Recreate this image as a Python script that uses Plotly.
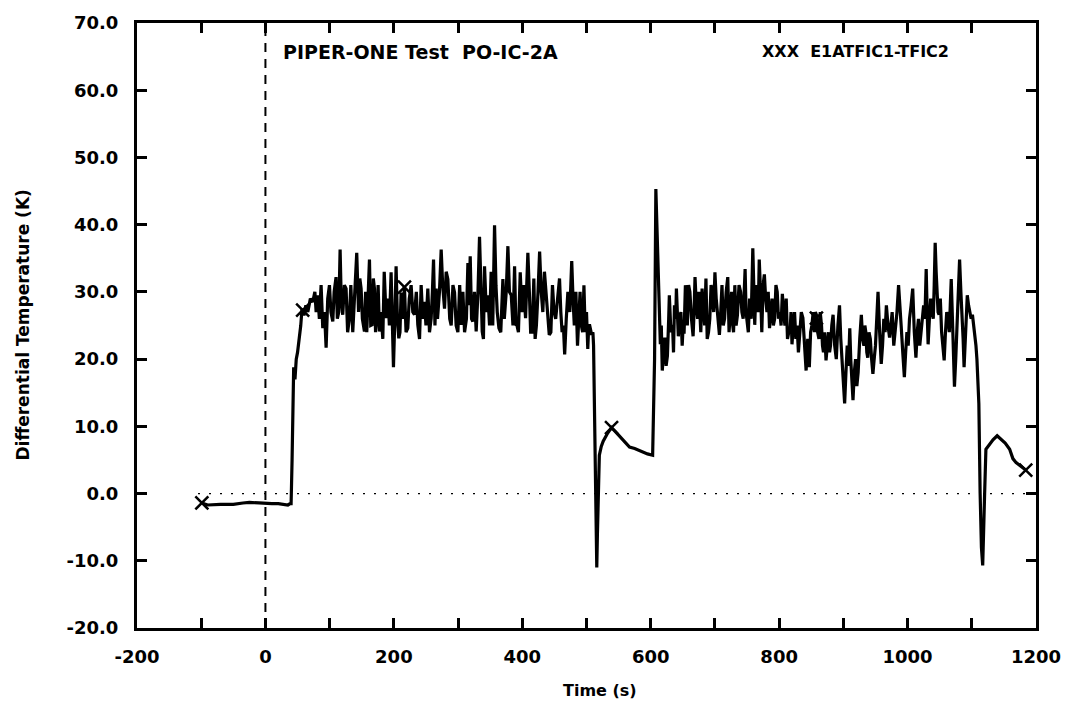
import plotly.graph_objects as go

# ---- data, as [time s, dT K] pairs per segment ----
seg_baseline = [
    [-99, -1.4], [-90, -1.7], [-70, -1.6], [-50, -1.6], [-35, -1.4], [-25, -1.3],
    [-10, -1.4], [0, -1.5], [10, -1.5], [20, -1.5], [27, -1.6], [35, -1.7],
    [38.5, -1.5], [40, -1.5],
]
seg_rise = [
    [41.5, 5], [43, 14], [44, 18.8], [46, 17], [48, 20], [50, 21], [53, 23],
    [55, 25], [57, 27.5], [60, 26.5], [63, 28], [66, 27], [70, 29], [73.7, 28.5],
]
seg_noise_1 = [
    [77, 30], [79, 27], [81.5, 29.5], [84, 26], [86.7, 31], [88, 28], [89.3, 24.6],
    [92, 27], [94.5, 21.7], [97, 29], [99.7, 31], [102, 27], [104.9, 25.6], [107, 30],
    [110, 32.2], [112, 26], [114.2, 27], [116.3, 36.3], [118, 29], [120.4, 26.6],
    [123, 31], [125.6, 30.5], [128, 24], [130.8, 26.1], [133, 31], [136, 24], [139, 30],
    [142.2, 35.8], [145, 27], [147, 32], [149, 30.5], [151, 26], [154.2, 24.1],
    [156, 30], [157.8, 24], [160, 31], [162, 34.8], [164, 25], [166.1, 25.1], [168, 32],
    [169.8, 30.5], [171.5, 24], [173.4, 26.1], [175.5, 31], [177.6, 24.1], [180, 27],
    [182.8, 23], [185, 33], [188, 26.1], [191, 29], [193, 25], [195.7, 32.9],
    [197.5, 27], [199.4, 18.8], [201.5, 26], [203.5, 33.8], [205.5, 26], [207.7, 23.1],
    [209.5, 24], [211.3, 29.9], [214, 26], [216.5, 30.7], [219, 24], [221.7, 24.6],
    [224, 29], [226.9, 31], [229.5, 27], [232.1, 26.6], [235, 30], [237.3, 25.1],
    [240, 23], [242.5, 31], [245, 26], [247.7, 28.5], [250, 25], [252.9, 30.5],
    [255.5, 24], [258.1, 26.1], [260, 30], [261.8, 34.8], [264, 25], [265.9, 30.5],
    [268, 26], [271, 30], [273.7, 36.3], [276, 31], [278.9, 27.5], [281.5, 33],
    [284.1, 31.9], [287, 26], [289.3, 25], [292, 31], [294.5, 29.9], [297, 25],
    [299.7, 24], [302.5, 31], [304.9, 25.1], [307.5, 30], [310.1, 24], [313, 26],
    [315.3, 34.3], [317, 28], [318.9, 35.3], [321, 26], [323, 25.6], [325.5, 30],
    [328.2, 24.1], [331, 30], [333.4, 38.2], [335.5, 30], [337.6, 24.1], [339.5, 23],
    [341.2, 33.8], [344, 27], [346.4, 29.5], [349, 25], [351.5, 33], [354, 25],
    [356.8, 39.9], [359, 31], [361, 27], [363.6, 24.6], [366.5, 24], [369.8, 31.9],
    [372, 26], [375, 30], [377.6, 36.8], [380, 30], [382.8, 29.5], [385.5, 25],
    [388, 33.8], [390, 25], [391.6, 25.1], [394, 24], [396.8, 32.9], [399.5, 27],
    [402, 31], [405.1, 26.1], [408.7, 35.8], [411, 30], [413, 24], [415.5, 24],
    [418, 32], [420, 23], [422, 25], [424.5, 30], [427, 36], [429.5, 30], [432, 27],
    [434.5, 33], [437, 30], [439.5, 26], [442, 23.6], [444.5, 24], [447, 31],
    [449.5, 27], [452, 26], [455, 29], [458, 32], [460, 27], [462, 24], [464, 25],
    [466, 20.7], [468.5, 26], [471, 30], [474, 27], [477, 34.6], [479, 29], [481, 25],
    [483.5, 30], [486, 22], [488, 26], [490, 30], [492, 25], [494, 24], [496, 31],
    [498, 24], [500, 27], [502, 21.5], [503.5, 25], [505, 25], [508, 23.6], [510, 24],
    [511, 22],
]
seg_dip_plateau = [
    [513, 5], [515, -8], [516, -11], [517, -6], [518, 0], [520, 5.7], [523, 7],
    [526, 7.8], [533, 9], [539, 9.8], [545, 9.2], [551, 8.6], [557, 8], [562, 7.4],
    [567, 6.9], [575, 6.7], [582, 6.4], [590, 6.1], [595, 5.9], [603, 5.7], [606, 20],
    [608, 45.3], [610, 38],
]
seg_noise_2 = [
    [611, 33.4], [613, 27], [615, 22.2], [616.5, 25], [618, 18.3], [620, 21],
    [622, 23.2], [624, 19], [626, 20.5], [628, 26], [629, 29.5], [631, 25], [632, 24],
    [634, 25.1], [635.5, 21], [637, 28], [639, 26], [640, 30.5], [641.5, 26],
    [643, 23.4], [645, 26], [647, 27], [649, 22], [650, 24], [652, 24], [654, 31],
    [656, 27], [657, 25], [659, 31], [661, 30], [663.5, 26], [666, 23.4], [667.5, 27],
    [669, 32.2], [671, 28], [673, 26], [675, 30], [676, 26.6], [678, 24], [680, 30.5],
    [682, 27], [684, 25], [686, 32], [688, 23], [690, 24], [692, 26], [694, 31],
    [696, 30], [698, 27], [700, 32.9], [702, 29], [704, 27], [705.5, 26], [707, 23.6],
    [709, 27], [711, 31], [713, 25], [715, 26], [717.5, 30], [720, 32.2], [722, 24],
    [724, 27], [726, 30], [727, 25.6], [729, 24], [731, 31], [733, 25], [735, 26.5],
    [737.5, 31], [740, 30], [742, 27], [744, 26], [745.5, 30], [747, 33.4],
    [748.5, 27], [750, 25.1], [752, 24], [754, 29], [756.5, 26], [759, 36.5],
    [760.5, 29], [762, 25.1], [764, 31], [766, 30], [767.5, 27], [769, 34.8],
    [771, 30], [773, 24], [775, 31], [777, 32.6], [779, 29], [781, 27], [783, 30],
    [785, 24.6], [787, 27], [789, 29], [791, 25], [793, 26], [795, 31], [797, 30],
    [799, 26], [801, 27], [803, 25], [805, 29.7], [807, 27], [809, 25], [811, 29],
    [813, 23], [815, 24], [817, 24], [818.5, 27], [820, 22.2], [822, 25], [824, 27],
    [826, 23], [828, 25], [830, 21], [832, 24], [834.5, 27], [837, 26.1], [839.5, 22],
    [842, 18.3], [844.5, 23], [847, 18.8], [849, 24], [851, 25], [853, 27], [855, 24],
    [856.5, 27], [858, 26.6], [860, 24], [862, 23], [864, 27], [866, 25], [867.5, 22],
    [869, 21], [871, 24], [873, 19.8], [875, 22], [877, 24], [878.5, 21], [880, 22],
    [882, 25], [884, 26.6], [886.5, 22], [889, 20], [891.5, 25], [894, 28], [896, 23],
    [898, 19], [900, 17], [902, 13.4], [904, 18], [906, 22], [908, 19], [910, 24.6],
    [911.5, 20], [913, 17], [914, 15], [915, 13.9], [917, 18], [919, 20], [921, 16],
    [923, 18], [925.5, 23], [928, 26.6], [930, 23], [932, 22], [933.5, 25], [935, 24],
    [936.5, 21], [938, 20.2], [940, 24], [942, 23], [944, 20], [946, 17.8], [948, 20],
    [950, 22], [952, 26], [954, 30], [956.5, 24], [959, 19.3], [961, 22], [963, 26],
    [965, 24], [967, 28], [969.5, 25], [972, 23.2], [974, 25], [976, 27], [978.5, 22],
    [981, 24], [983.5, 27], [986, 31], [988, 27], [990, 25], [992.5, 21], [995, 17.3],
    [997, 21], [999, 24], [1001, 22], [1003, 26], [1005.5, 28], [1008, 30.5],
    [1010.5, 24], [1013, 20.2], [1015, 24], [1017, 26], [1019, 22], [1021, 24],
    [1023, 27], [1025, 28], [1027, 26], [1029, 33.4], [1030.5, 27], [1032, 22.2],
    [1034, 26], [1036, 29], [1038, 27], [1040, 26], [1041.5, 31], [1043, 37.3],
    [1044.5, 33], [1046, 30], [1047.5, 27], [1049, 26.6], [1051, 29], [1053, 24],
    [1055, 22], [1057, 19.8], [1059, 24], [1061, 27], [1063, 26], [1065, 24],
    [1066.5, 28], [1068, 31.9], [1070.5, 24], [1073, 15.9], [1075, 20], [1077, 25],
    [1079, 30], [1081, 34.8], [1083, 30], [1085, 27], [1086.5, 23], [1088, 18.8],
    [1089.5, 22], [1091, 25], [1093, 29.5], [1095, 28], [1097, 27], [1099, 26],
    [1101, 26.6], [1103, 25], [1105, 24], [1106.5, 22], [1108, 20], [1110, 16],
    [1111, 13.4],
]
seg_final = [
    [1113, 0], [1115, -8], [1117, -10.7], [1118, -5], [1120, 0], [1122, 6.6],
    [1127, 7.3], [1133, 8], [1139.5, 8.6], [1146, 8], [1152, 7.5], [1159, 6.6],
    [1164, 5.2], [1169, 4.6], [1174, 4.2], [1184, 3.5],
]

marker_time = [-99, 58, 216.5, 539, 858, 1184]
marker_dT = [-1.4, 27.3, 30.7, 9.8, 26.1, 3.5]

x_tick_vals = list(range(-200, 1201, 100))
x_tick_text = [str(v) if v % 200 == 0 else "" for v in x_tick_vals]
y_tick_vals = list(range(-20, 71, 10))
y_tick_text = [f"{v:.1f}" for v in y_tick_vals]

title_text = "PIPER-ONE Test  PO-IC-2A"
legend_text = "XXX  E1ATFIC1-TFIC2"
x_title = "Time (s)"
y_title = "Differential Temperature (K)"

all_pairs = seg_baseline + seg_rise + seg_noise_1 + seg_dip_plateau + seg_noise_2 + seg_final
time_s = [p[0] for p in all_pairs]
dT_K = [p[1] for p in all_pairs]

FONT = "DejaVu Sans"

fig = go.Figure()

# zero reference line (dotted)
fig.add_trace(go.Scatter(x=[-105, 1200], y=[0, 0], mode="lines",
                         line=dict(color="black", width=1.2, dash="2px,9px"),
                         hoverinfo="skip", showlegend=False))
# t = 0 reference line (dashed)
fig.add_trace(go.Scatter(x=[0, 0], y=[-20, 70], mode="lines",
                         line=dict(color="black", width=2, dash="9px,7px"),
                         hoverinfo="skip", showlegend=False))

fig.add_trace(go.Scatter(x=time_s, y=dT_K, mode="lines",
                         line=dict(color="black", width=3.2),
                         showlegend=False))
fig.add_trace(go.Scatter(x=marker_time, y=marker_dT, mode="markers",
                         marker=dict(symbol="x-thin-open", size=13, color="black",
                                     line=dict(color="black", width=2.5)),
                         showlegend=False))

axis_common = dict(showgrid=False, zeroline=False, showline=True,
                   linecolor="black", linewidth=3, mirror="allticks",
                   ticks="inside", ticklen=10, tickwidth=2.5, tickcolor="black",
                   tickfont=dict(family=FONT, size=18, color="black", weight="bold"))

fig.update_xaxes(range=[-200, 1200], tickmode="array", tickvals=x_tick_vals,
                 ticktext=x_tick_text, ticklabelstandoff=10, **axis_common)
fig.update_yaxes(range=[-20, 70], tickmode="array", tickvals=y_tick_vals,
                 ticktext=y_tick_text, ticklabelstandoff=12, **axis_common)

fig.add_annotation(text=title_text, xref="x", yref="paper", x=25, y=1,
                   xanchor="left", yanchor="middle", yshift=-29, showarrow=False,
                   font=dict(family=FONT, size=19, color="black", weight="bold"))
fig.add_annotation(text=legend_text, xref="x", yref="paper", x=770, y=1,
                   xanchor="left", yanchor="middle", yshift=-28, showarrow=False,
                   font=dict(family=FONT, size=16, color="black", weight="bold"))
fig.add_annotation(text=x_title, xref="paper", yref="paper", x=0.515, y=0,
                   xanchor="center", yanchor="middle", yshift=-62, showarrow=False,
                   font=dict(family=FONT, size=16, color="black", weight="bold"))
fig.add_annotation(text=y_title, xref="paper", yref="paper", x=0, y=0.5,
                   xanchor="center", yanchor="middle", xshift=-115, textangle=-90,
                   showarrow=False,
                   font=dict(family=FONT, size=17, color="black", weight="bold"))

fig.update_layout(width=1076, height=713,
                  margin=dict(l=137, r=40, t=14, b=85),
                  paper_bgcolor="white", plot_bgcolor="white")

fig.write_html("out.html")
